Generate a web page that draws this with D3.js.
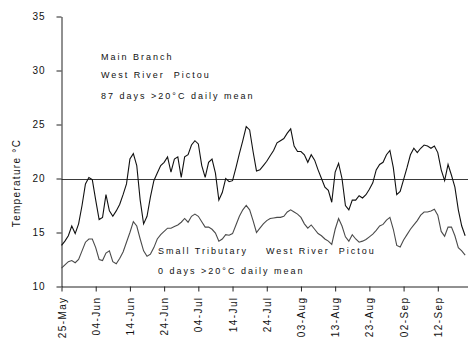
<!DOCTYPE html>
<html>
<head>
<meta charset="utf-8">
<script src="https://cdn.jsdelivr.net/npm/d3@7"></script>
<style>
  html, body { margin: 0; padding: 0; background: #fff; overflow: hidden; }
  svg { display: block; font-family: "Liberation Sans", Arial, sans-serif; }
</style>
</head>
<body>
<svg id="chart" width="468" height="343"></svg>
<script>
// ---- data (daily mean water temperature, °C), starting 25-May ----
const startDate = "25-May";
const endDate = "22-Sep";
const mainBranch = [
  13.8, 14.2, 14.7, 15.6, 14.9, 15.8, 17.5, 19.5, 20.1, 19.9,
  18.0, 16.2, 16.4, 18.5, 17.0, 16.5, 17.0, 17.6, 18.5, 19.5,
  21.8, 22.3, 21.2, 18.0, 15.8, 16.5, 18.3, 19.8, 20.5, 21.2,
  21.5, 22.0, 20.6, 21.8, 22.0, 20.1, 22.0, 22.2, 23.1, 23.5,
  23.2, 21.2, 20.1, 21.5, 21.8, 20.5, 18.0, 18.7, 20.0, 19.7,
  19.8, 21.0, 22.3, 23.5, 24.8, 24.5, 22.5, 20.7, 20.8, 21.2,
  21.6, 22.1, 22.6, 23.3, 23.5, 23.7, 24.2, 24.6, 23.0, 22.5,
  22.5, 22.2, 21.5, 22.2, 21.7, 20.8, 20.0, 19.2, 18.9, 17.8,
  20.6, 21.4, 20.0, 17.5, 17.1, 18.0, 18.0, 18.4, 18.2, 18.5,
  19.0, 19.6, 20.8, 21.3, 21.5, 22.2, 22.6, 21.0, 18.5, 18.8,
  19.9, 21.0, 22.2, 22.8, 22.4, 22.8, 23.1, 23.0, 22.8, 23.0,
  22.4, 20.8, 19.8, 21.3, 20.3, 19.2, 17.1, 15.6, 14.7
];
const smallTributary = [
  11.7, 12.0, 12.3, 12.4, 12.2, 12.5, 13.3, 14.1, 14.4, 14.4,
  13.6, 12.5, 12.4, 13.1, 13.3, 12.3, 12.1, 12.6, 13.2, 14.1,
  15.0, 16.0, 15.6, 14.4, 13.3, 12.8, 13.0, 13.6, 14.4, 14.8,
  15.1, 15.4, 15.4, 15.55, 15.7, 15.95, 16.3, 15.95, 16.5, 16.7,
  16.5, 16.0, 15.5, 15.5, 15.3, 14.95, 14.2, 14.4, 14.8, 14.75,
  14.9, 15.7, 16.5, 17.1, 17.5, 17.1, 16.1, 15.0, 15.4, 15.8,
  16.1, 16.3, 16.35, 16.4, 16.4, 16.5, 16.9, 17.1, 16.9, 16.7,
  16.4, 15.8, 15.4, 15.7, 15.3, 14.9, 14.7, 14.4, 14.2, 13.9,
  15.3, 16.3, 15.6, 14.6, 14.2, 14.8, 14.4, 14.1, 14.2, 14.35,
  14.6, 14.85, 15.2, 15.6, 15.75, 16.15, 16.4, 15.3, 13.8, 13.65,
  14.3, 14.8, 15.3, 15.7, 16.1, 16.6, 16.9, 16.9, 17.0, 17.15,
  16.6, 15.1, 14.65, 15.5, 15.5, 14.7, 13.6, 13.3, 12.9
];
const xTickLabels = ["25-May", "04-Jun", "14-Jun", "24-Jun", "04-Jul", "14-Jul",
  "24-Jul", "03-Aug", "13-Aug", "23-Aug", "02-Sep", "12-Sep"];
const yTicks = [10, 15, 20, 25, 30, 35];
const threshold = 20;
const yTitle = "Temperature °C";
const mainLabels = ["Main Branch", "West River  Pictou", "87 days >20°C daily mean"];
const tribLabels = ["Small Tributary    West River  Pictou", "0 days >20°C daily mean"];

// ---- build ----
const parse = d3.timeParse("%d-%b-%Y");
const fmt = d3.timeFormat("%d-%b");
const t0 = parse(startDate + "-2001");
const t1 = parse(endDate + "-2001");
const day = i => d3.timeDay.offset(t0, i);
const tickDates = xTickLabels.map(s => parse(s + "-2001"));

const svg = d3.select("#chart");
const x = d3.scaleTime().domain([t0, t1]).range([61.5, 472]);
const y = d3.scaleLinear().domain([10, 35]).range([286.5, 16.5]);

// threshold line
svg.append("line")
  .attr("x1", x(t0)).attr("x2", x(t1))
  .attr("y1", Math.round(y(threshold)) + 0.5).attr("y2", Math.round(y(threshold)) + 0.5)
  .attr("stroke", "#3a3a3a").attr("stroke-width", 1);

// y axis
const yAxis = svg.append("g").attr("transform", "translate(61.5,0)")
  .call(d3.axisLeft(y).tickValues(yTicks).tickSize(5).tickSizeOuter(0).tickPadding(11));
yAxis.select(".domain").attr("stroke", "#222");
yAxis.selectAll(".tick line").attr("stroke", "#222");
yAxis.selectAll(".tick text").attr("font-size", 10).attr("fill", "#111")
  .style("letter-spacing", "1px").attr("font-family", "Liberation Sans, Arial, sans-serif");

// x axis
const xAxis = svg.append("g").attr("transform", "translate(0,286.5)")
  .call(d3.axisBottom(x).tickValues(tickDates).tickFormat(fmt).tickSize(5).tickSizeOuter(0));
xAxis.select(".domain").attr("stroke", "#222");
xAxis.selectAll(".tick line").attr("stroke", "#222");
xAxis.selectAll(".tick text")
  .attr("font-size", 10).attr("fill", "#111")
  .attr("font-family", "Liberation Sans, Arial, sans-serif")
  .style("letter-spacing", "1.4px")
  .attr("text-anchor", "end")
  .attr("y", 0).attr("dy", "0.35em")
  .attr("transform", "translate(0,10) rotate(-90)");

// lines
const line = d3.line().x((d, i) => x(day(i))).y(d => y(d)).curve(d3.curveLinear);
svg.append("path").datum(smallTributary).attr("d", line)
  .attr("fill", "none").attr("stroke", "#4a4a4a").attr("stroke-width", 1.1);
svg.append("path").datum(mainBranch).attr("d", line)
  .attr("fill", "none").attr("stroke", "#111").attr("stroke-width", 1.1);

// y title
svg.append("text")
  .attr("transform", "translate(19.5,183) rotate(-90)")
  .attr("text-anchor", "middle")
  .attr("font-size", 10).attr("fill", "#111")
  .style("letter-spacing", "1.3px")
  .text(yTitle);

// annotations
const ann = (lines, x0, ys) => lines.forEach((s, i) => {
  svg.append("text").attr("x", x0).attr("y", ys[i])
    .attr("font-size", 9).attr("fill", "#111")
    .style("letter-spacing", "2px").style("white-space", "pre")
    .attr("xml:space", "preserve")
    .text(s);
});
ann(mainLabels, 101, [60, 78, 99]);
ann(tribLabels, 158, [254, 274]);
</script>
</body>
</html>
